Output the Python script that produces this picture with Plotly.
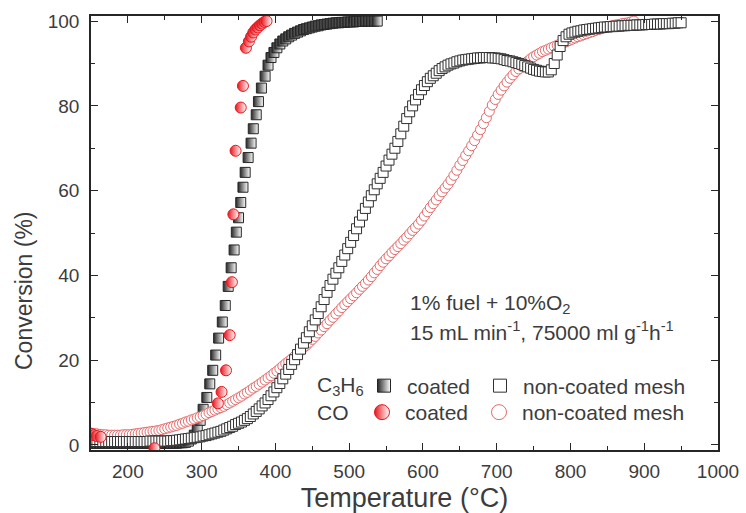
import plotly.graph_objects as go

# ---------------- data: conversion (%) vs temperature (°C) ----------------
# non-coated mesh, C3H6 (sampled every 4 °C from 150 to 950 °C)
temp_c3h6_noncoated = list(range(150, 951, 4))
c3h6_noncoated = [
    0.8, 0.8, 0.8, 0.8, 0.8, 0.8, 0.8, 0.8, 0.8, 0.8,
    0.8, 0.8, 0.8, 0.8, 0.8, 0.8, 0.8, 0.8, 0.8, 0.8,
    0.9, 0.9, 0.9, 0.9, 0.9, 0.9, 0.9, 1.0, 1.0, 1.1,
    1.2, 1.3, 1.4, 1.5, 1.6, 1.7, 1.8, 1.9, 2.1, 2.2,
    2.4, 2.6, 2.8, 3.0, 3.2, 3.5, 3.8, 4.1, 4.4, 4.8,
    5.1, 5.4, 5.8, 6.2, 6.7, 7.3, 7.9, 8.5, 9.2, 9.9,
    10.7, 11.6, 12.5, 13.5, 14.5, 15.6, 16.7, 17.8, 19.0, 20.1,
    21.3, 22.6, 24.0, 25.3, 26.7, 28.1, 29.5, 31.0, 32.6, 34.3,
    36.0, 37.6, 39.1, 40.5, 41.8, 43.3, 44.8, 46.3, 47.8, 49.4,
    51.0, 52.6, 54.2, 55.8, 57.3, 58.8, 60.2, 61.6, 62.9, 64.3,
    65.8, 67.2, 68.6, 70.0, 71.6, 73.4, 75.2, 77.0, 78.6, 80.0,
    81.4, 82.7, 83.8, 84.8, 85.7, 86.5, 87.1, 87.7, 88.3, 88.8,
    89.2, 89.6, 89.9, 90.1, 90.4, 90.6, 90.8, 90.9, 91.0, 91.1,
    91.2, 91.3, 91.3, 91.4, 91.4, 91.4, 91.3, 91.3, 91.2, 91.1,
    90.9, 90.7, 90.6, 90.4, 90.2, 90.0, 89.8, 89.5, 89.2, 88.9,
    88.6, 88.4, 88.2, 88.1, 88.0, 88.0, 88.5, 90.0, 92.0, 94.0,
    95.4, 96.3, 96.9, 97.2, 97.4, 97.6, 97.7, 97.9, 98.0, 98.1,
    98.2, 98.3, 98.4, 98.5, 98.6, 98.6, 98.7, 98.7, 98.8, 98.8,
    98.9, 98.9, 99.0, 99.0, 99.0, 99.1, 99.1, 99.1, 99.2, 99.2,
    99.2, 99.3, 99.3, 99.3, 99.4, 99.4, 99.4, 99.5, 99.5, 99.6,
    99.6,
]

# non-coated mesh, CO (sampled every 4 °C from 150 to 886 °C)
temp_co_noncoated = list(range(150, 887, 4))
co_noncoated = [
    2.8, 2.7, 2.6, 2.5, 2.4, 2.4, 2.3, 2.3, 2.3, 2.3,
    2.3, 2.4, 2.4, 2.4, 2.5, 2.6, 2.7, 2.8, 2.9, 3.0,
    3.1, 3.2, 3.3, 3.4, 3.6, 3.8, 4.0, 4.2, 4.4, 4.6,
    4.9, 5.1, 5.4, 5.6, 5.9, 6.1, 6.4, 6.6, 6.9, 7.2,
    7.6, 7.9, 8.2, 8.5, 8.8, 9.1, 9.5, 9.9, 10.3, 10.7,
    11.1, 11.5, 12.0, 12.4, 12.9, 13.4, 13.8, 14.3, 14.8, 15.3,
    15.8, 16.3, 16.9, 17.4, 18.0, 18.6, 19.2, 19.7, 20.3, 20.9,
    21.6, 22.2, 22.9, 23.5, 24.2, 24.9, 25.6, 26.4, 27.1, 27.9,
    28.6, 29.4, 30.1, 30.9, 31.6, 32.4, 33.1, 33.8, 34.5, 35.2,
    35.9, 36.7, 37.4, 38.1, 38.9, 39.7, 40.6, 41.4, 42.3, 43.1,
    43.9, 44.6, 45.4, 46.1, 46.8, 47.5, 48.3, 49.0, 49.8, 50.6,
    51.3, 52.1, 53.0, 54.0, 55.0, 56.0, 56.9, 57.8, 58.8, 59.7,
    60.6, 61.5, 62.5, 63.6, 64.8, 66.0, 67.1, 68.3, 69.4, 70.6,
    71.8, 73.1, 74.4, 75.8, 77.2, 78.7, 80.2, 81.5, 82.7, 83.7,
    84.7, 85.6, 86.5, 87.3, 88.1, 88.7, 89.3, 89.9, 90.5, 91.1,
    91.6, 92.0, 92.4, 92.8, 93.1, 93.4, 93.7, 94.0, 94.3, 94.6,
    94.8, 95.1, 95.4, 95.7, 96.0, 96.3, 96.5, 96.8, 97.0, 97.3,
    97.5, 97.8, 98.0, 98.2, 98.4, 98.6, 98.8, 99.0, 99.1, 99.2,
    99.4, 99.5, 99.6, 99.8, 100.0,
]

# coated mesh, C3H6
temp_c3h6_coated = [
    150, 154, 158, 162, 166, 170, 174, 178, 182, 186,
    190, 194, 198, 202, 206, 210, 214, 218, 222, 226,
    230, 234, 238, 242, 246, 250, 254, 258, 262,
    266, 270, 274, 278, 282, 286, 290, 294, 298, 302,
    307, 311, 315, 319, 323, 328, 332, 336, 340, 344,
    347, 350, 353, 356, 359, 363, 367, 370, 374, 377,
    381, 386, 390, 394, 398, 402, 406, 410, 414, 418,
    422, 426, 430, 434, 438, 442, 446, 450, 454, 458,
    462, 466, 470, 474, 478, 482, 486, 490, 494, 498,
    502, 506, 510, 514, 518, 522, 526, 530, 534, 538,
]
c3h6_coated = [
    0.4, 0.4, 0.4, 0.4, 0.4, 0.4, 0.4, 0.4, 0.4, 0.4,
    0.4, 0.4, 0.4, 0.4, 0.4, 0.4, 0.4, 0.4, 0.4, 0.4,
    0.4, 0.4, 0.4, 0.4, 0.4, 0.4, 0.4, 0.4, 0.4,
    0.4, 0.5, 0.5, 0.6, 0.9, 1.4, 2.3, 3.7, 5.8, 8.4,
    11.2, 14.4, 17.6, 21.2, 25.2, 29.0, 32.9, 37.4, 41.8, 46.0,
    50.2, 53.6, 57.2, 60.8, 64.3, 67.8, 71.2, 74.6, 77.9, 81.0,
    84.2, 87.0, 89.6, 91.4, 92.6, 93.7, 94.6, 95.3, 95.8, 96.3,
    96.7, 97.1, 97.4, 97.7, 98.0, 98.2, 98.4, 98.6, 98.8, 98.9,
    99.1, 99.2, 99.3, 99.4, 99.5, 99.6, 99.6, 99.7, 99.7, 99.8,
    99.8, 99.8, 99.9, 99.9, 99.9, 100.0, 100.0, 100.0, 100.0, 100.0,
]

# coated mesh, CO
temp_co_coated = [150, 154, 158, 163, 236, 322, 327, 333, 338, 341, 343, 346,
                  353, 356, 360, 364, 367, 370, 373, 376, 379, 382, 385, 388]
co_coated = [2.6, 2.3, 2.1, 1.9, -0.8, 9.8, 12.5, 17.6, 25.9, 38.4, 54.4, 69.4,
             79.6, 84.7, 93.7, 95.2, 96.3, 97.3, 98.0, 98.5, 99.0, 99.4, 99.8, 100.0]

# ---------------- styling ----------------
FONT = "Liberation Sans, Arial, sans-serif"
TEXT = "#3c3c3c"
RED = "#e8141c"
PINK = "#e36a6a"
INK = "#262626"

sym_c3h6_coated = dict(symbol="square", color=INK, line=dict(color=INK, width=1),
                       gradient=dict(type="horizontal", color="white"))
sym_c3h6_noncoated = dict(symbol="square", color="white", line=dict(color="#303030", width=1))
sym_co_coated = dict(symbol="circle", color=RED, line=dict(color=RED, width=1),
                     gradient=dict(type="horizontal", color="white"))
sym_co_noncoated = dict(symbol="circle", color="white", line=dict(color=PINK, width=1))

fig = go.Figure()

# data series (drawn bottom to top)
fig.add_trace(go.Scatter(x=temp_c3h6_coated, y=c3h6_coated, mode="markers",
                         marker=dict(size=10, **sym_c3h6_coated), showlegend=False))
fig.add_trace(go.Scatter(x=temp_co_noncoated, y=co_noncoated, mode="markers",
                         marker=dict(size=10, **sym_co_noncoated), showlegend=False))
fig.add_trace(go.Scatter(x=temp_c3h6_noncoated, y=c3h6_noncoated, mode="markers",
                         marker=dict(size=10, **sym_c3h6_noncoated), showlegend=False))
fig.add_trace(go.Scatter(x=temp_co_coated, y=co_coated, mode="markers",
                         marker=dict(size=11, **sym_co_coated), showlegend=False))

# legend entries: one legend box per entry so the grid layout can be placed freely
legend_entries = [
    ("coated", sym_c3h6_coated, 13, "legend"),
    ("non-coated mesh", sym_c3h6_noncoated, 13, "legend2"),
    ("coated", sym_co_coated, 15, "legend3"),
    ("non-coated mesh", sym_co_noncoated, 15, "legend4"),
]
for name, sym, size, leg in legend_entries:
    fig.add_trace(go.Scatter(x=[None], y=[None], mode="markers", name=name,
                             marker=dict(size=size, **sym), legend=leg, showlegend=True))

PLOT_L, PLOT_R, PLOT_T, PLOT_B = 91, 718, 16, 450


def px_x(px):
    return (px - PLOT_L) / (PLOT_R - PLOT_L)


def px_y(py):
    return (PLOT_B - py) / (PLOT_B - PLOT_T)


def legend_box(px, py):
    return dict(x=px_x(px), y=px_y(py), xref="paper", yref="paper",
                xanchor="left", yanchor="middle", bgcolor="rgba(0,0,0,0)",
                borderwidth=0, font=dict(family=FONT, size=21, color=TEXT),
                itemsizing="trace", itemwidth=36, orientation="h")


axis_common = dict(
    showline=True, linecolor=INK, linewidth=1.5, mirror="ticks",
    ticks="inside", ticklen=7, tickwidth=1.3, tickcolor=INK,
    showgrid=False, zeroline=False, automargin=False,
    tickfont=dict(family=FONT, size=19, color=TEXT),
)

fig.update_layout(
    width=746, height=513,
    margin=dict(l=PLOT_L, r=746 - PLOT_R, t=PLOT_T, b=513 - PLOT_B),
    paper_bgcolor="white", plot_bgcolor="white",
    xaxis=dict(range=[150, 1000], tickvals=[200, 300, 400, 500, 600, 700, 800, 900, 1000],
               minor=dict(ticks="inside", ticklen=4, dtick=50, tick0=150, tickcolor=INK),
               title=dict(text="Temperature (°C)", font=dict(family=FONT, size=27, color=TEXT),
                          standoff=13),
               ticklabelstandoff=3,
               **axis_common),
    yaxis=dict(range=[-1.2, 101.2], tickvals=[0, 20, 40, 60, 80, 100],
               minor=dict(ticks="inside", ticklen=4, dtick=10, tick0=0, tickcolor=INK),
               ticklabelstandoff=6,
               **axis_common),
    legend=legend_box(361, 386),
    legend2=legend_box(477, 386),
    legend3=legend_box(359, 412.5),
    legend4=legend_box(476, 412.5),
    showlegend=True,
)

# y-axis title sits low beside the 20–60 tick labels
fig.add_annotation(text="Conversion (%)", textangle=-90,
                   x=px_x(24), y=px_y(291), xref="paper", yref="paper",
                   xanchor="center", yanchor="middle", showarrow=False,
                   font=dict(family=FONT, size=23, color=TEXT))

notes = [
    ("1% fuel + 10%O<sub>2</sub>", 408, 304),
    ("15 mL min<sup>-1</sup>, 75000 ml g<sup>-1</sup>h<sup>-1</sup>", 408, 331),
    ("C<sub>3</sub>H<sub>6</sub>", 315, 386),
    ("CO", 315, 412.5),
]
for text, px, py in notes:
    fig.add_annotation(text=text, x=px_x(px), y=px_y(py), xref="paper", yref="paper",
                       xanchor="left", yanchor="middle", showarrow=False,
                       font=dict(family=FONT, size=21, color=TEXT))

fig.write_html("out.html")
